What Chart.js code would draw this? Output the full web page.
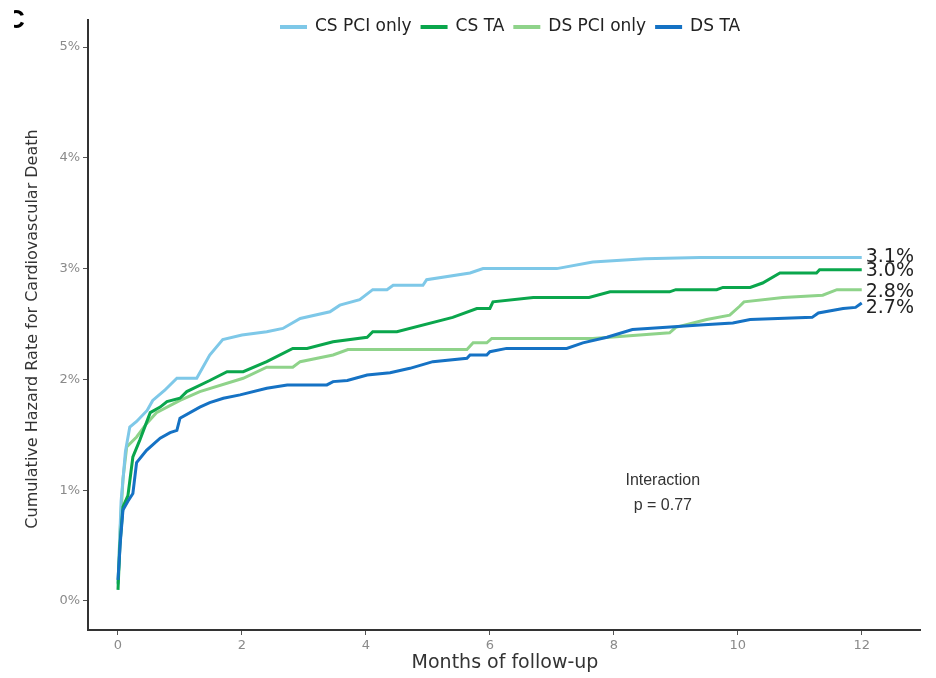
<!DOCTYPE html>
<html>
<head>
<meta charset="utf-8">
<script src="https://cdn.jsdelivr.net/npm/chart.js@4"></script>
<style>
  body { margin: 0; background: #fff; }
  #wrap { width: 936px; height: 678px; }
</style>
</head>
<body>
<div id="wrap"><canvas id="chart" width="936" height="678"></canvas></div>
<script>
const seriesNames = ['CS PCI only', 'CS TA', 'DS PCI only', 'DS TA']
const endLabels = ['3.1%', '3.0%', '2.8%', '2.7%']
const xTicks = [0, 2, 4, 6, 8, 10, 12]
const yTicks = [0, 1, 2, 3, 4, 5]

// months of follow-up / cumulative hazard (%)
const csPciMonths = [0, 0.05, 0.12, 0.19, 0.3, 0.47, 0.56, 0.75, 0.95, 1.27, 1.48, 1.69, 2.0, 2.4, 2.66, 2.94, 3.42, 3.58, 3.9, 4.11, 4.34, 4.44, 4.92, 4.98, 5.68, 5.89, 7.08, 7.66, 8.5, 9.39, 12]
const csPciRate = [0.15, 0.9, 1.35, 1.57, 1.62, 1.72, 1.81, 1.9, 2.01, 2.01, 2.22, 2.36, 2.4, 2.43, 2.46, 2.55, 2.61, 2.67, 2.72, 2.81, 2.81, 2.85, 2.85, 2.9, 2.96, 3.0, 3.0, 3.06, 3.09, 3.1, 3.1]

const csTaMonths = [0, 0.03, 0.08, 0.16, 0.24, 0.35, 0.52, 0.68, 0.79, 1.0, 1.11, 1.48, 1.76, 2.02, 2.4, 2.82, 3.05, 3.47, 4.02, 4.11, 4.5, 5.4, 5.79, 6.0, 6.05, 6.7, 7.6, 7.94, 8.9, 9.0, 9.66, 9.76, 10.2, 10.4, 10.68, 11.27, 11.32, 12]
const csTaRate = [0.1, 0.5, 0.85, 0.95, 1.3, 1.45, 1.7, 1.75, 1.8, 1.83, 1.89, 1.99, 2.07, 2.07, 2.16, 2.28, 2.28, 2.34, 2.38, 2.43, 2.43, 2.56, 2.64, 2.64, 2.7, 2.74, 2.74, 2.79, 2.79, 2.81, 2.81, 2.83, 2.83, 2.87, 2.96, 2.96, 2.99, 2.99]

const dsPciMonths = [0, 0.04, 0.08, 0.14, 0.3, 0.46, 0.62, 1.0, 1.32, 2.02, 2.4, 2.82, 2.94, 3.47, 3.71, 5.63, 5.73, 5.95, 6.03, 7.66, 8.9, 9.0, 9.5, 9.87, 10.03, 10.1, 10.73, 11.37, 11.6, 12]
const dsPciRate = [0.16, 0.7, 1.1, 1.39, 1.48, 1.6, 1.7, 1.81, 1.89, 2.01, 2.11, 2.11, 2.16, 2.22, 2.27, 2.27, 2.33, 2.33, 2.37, 2.37, 2.42, 2.47, 2.54, 2.58, 2.66, 2.7, 2.74, 2.76, 2.81, 2.81]

const dsTaMonths = [0, 0.04, 0.08, 0.16, 0.24, 0.3, 0.46, 0.68, 0.84, 0.95, 1.0, 1.32, 1.48, 1.7, 1.97, 2.4, 2.73, 3.37, 3.47, 3.7, 4.02, 4.39, 4.71, 5.08, 5.63, 5.68, 5.95, 6.0, 6.27, 7.24, 7.5, 7.89, 8.3, 8.85, 9.39, 9.92, 10.2, 11.2, 11.3, 11.7, 11.9, 12]
const dsTaRate = [0.19, 0.55, 0.82, 0.9, 0.97, 1.25, 1.36, 1.47, 1.52, 1.54, 1.65, 1.75, 1.79, 1.83, 1.86, 1.92, 1.95, 1.95, 1.98, 1.99, 2.04, 2.06, 2.1, 2.16, 2.19, 2.22, 2.22, 2.25, 2.28, 2.28, 2.33, 2.38, 2.45, 2.47, 2.49, 2.51, 2.54, 2.56, 2.6, 2.64, 2.65, 2.69]

const colors = ['#7ec8e8', '#0aa64c', '#8fd38a', '#1572c4']
const sans = 'Liberation Sans, Arial, sans-serif'
const wide = 'DejaVu Sans, sans-serif'

const toPoints = (months, rates) => months.map((m, i) => ({ x: m, y: rates[i] }))
const seriesData = [
  toPoints(csPciMonths, csPciRate),
  toPoints(csTaMonths, csTaRate),
  toPoints(dsPciMonths, dsPciRate),
  toPoints(dsTaMonths, dsTaRate)
]

const datasets = seriesNames.map((name, i) => ({
  label: name,
  data: seriesData[i],
  borderColor: colors[i],
  backgroundColor: colors[i],
  borderWidth: 3,
  pointRadius: 0,
  tension: 0,
  fill: false
}))
// light green sits under the others
datasets[2].order = 3
datasets[0].order = 2
datasets[1].order = 1
datasets[3].order = 0

const drawText = (ctx, str, x, y, font, color, align) => {
  ctx.font = font
  ctx.fillStyle = color
  ctx.textAlign = align || 'left'
  ctx.textBaseline = 'middle'
  ctx.fillText(str, x, y)
}

const annotations = {
  id: 'annotations',
  afterDraw(chart) {
    const { ctx, scales } = chart
    ctx.save()

    // legend, drawn by hand so it sits inside the top of the plot
    let lx = 280
    const ly = 27
    ctx.font = '17px ' + wide
    chart.data.datasets.forEach((ds, i) => {
      ctx.strokeStyle = ds.borderColor
      ctx.lineWidth = 4
      ctx.beginPath()
      ctx.moveTo(lx, ly)
      ctx.lineTo(lx + 27, ly)
      ctx.stroke()
      lx += 35
      drawText(ctx, ds.label, lx, ly, '17px ' + wide, '#222')
      lx += ctx.measureText(ds.label).width + 9
    })

    // end-of-curve percentages
    const offsets = [0, 1, 2, 5]
    chart.data.datasets.forEach((ds, i) => {
      const last = ds.data[ds.data.length - 1]
      drawText(ctx, endLabels[i], scales.x.getPixelForValue(last.x) + 4,
        scales.y.getPixelForValue(last.y) + offsets[i], '19px ' + wide, '#222')
    })

    const ix = scales.x.getPixelForValue(8.79)
    drawText(ctx, 'Interaction', ix, scales.y.getPixelForValue(1.09), '16px ' + sans, '#333', 'center')
    drawText(ctx, 'p = 0.77', ix, scales.y.getPixelForValue(0.86), '16px ' + sans, '#333', 'center')

    // axis titles
    drawText(ctx, 'Months of follow-up', 505, 663, '19px ' + wide, '#333', 'center')
    ctx.save()
    ctx.translate(33, 329)
    ctx.rotate(-Math.PI / 2)
    drawText(ctx, 'Cumulative Hazard Rate for Cardiovascular Death', 0, 0, '16px ' + wide, '#333', 'center')
    ctx.restore()

    // clipped panel letter
    ctx.save()
    ctx.beginPath()
    ctx.rect(14, 0, 40, 40)
    ctx.clip()
    ctx.font = 'bold 26px ' + sans
    ctx.fillStyle = '#000'
    ctx.textAlign = 'left'
    ctx.textBaseline = 'alphabetic'
    ctx.fillText('C', 6, 28)
    ctx.restore()

    ctx.restore()
  }
}

new Chart(document.getElementById('chart'), {
  type: 'line',
  data: { datasets },
  plugins: [annotations],
  options: {
    responsive: false,
    animation: false,
    devicePixelRatio: 1,
    layout: { padding: { left: 0, right: 16, top: 20, bottom: 0 } },
    plugins: {
      tooltip: { enabled: false },
      legend: { display: false }
    },
    scales: {
      x: {
        type: 'linear',
        min: -0.484,
        max: 12.94,
        afterFit: (scale) => { scale.height = 48 },
        afterBuildTicks: (scale) => { scale.ticks = xTicks.map(v => ({ value: v })) },
        border: { display: true, color: '#333', width: 2 },
        grid: { drawOnChartArea: false, drawTicks: true, tickLength: 5, color: '#555' },
        ticks: { color: '#8a8a8a', font: { family: wide, size: 13 }, padding: 3 }
      },
      y: {
        type: 'linear',
        min: -0.262,
        max: 5.244,
        afterFit: (scale) => { scale.width = 88 },
        afterBuildTicks: (scale) => { scale.ticks = yTicks.map(v => ({ value: v })) },
        border: { display: true, color: '#333', width: 2 },
        grid: { drawOnChartArea: false, drawTicks: true, tickLength: 5, color: '#555' },
        ticks: { color: '#8a8a8a', font: { family: wide, size: 13 }, padding: 3, callback: (v) => v + '%' }
      }
    }
  }
})
</script>
</body>
</html>
